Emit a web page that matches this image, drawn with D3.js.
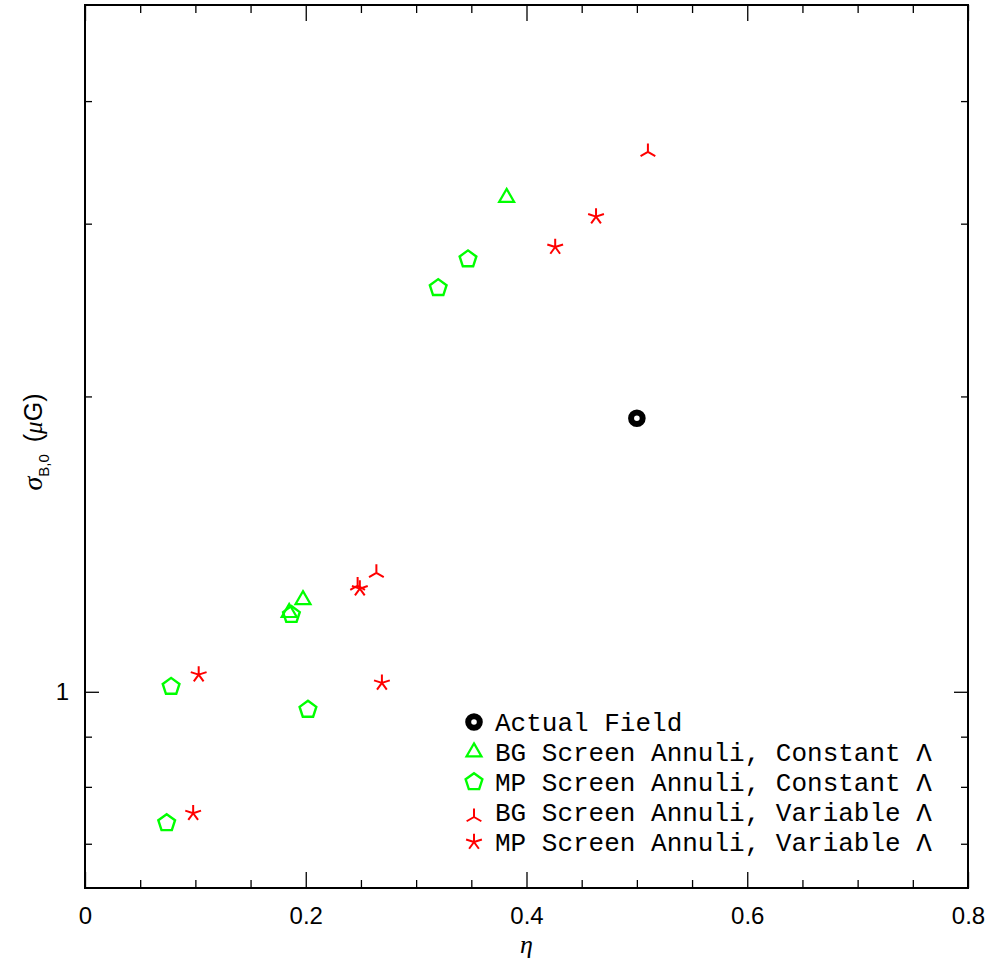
<!DOCTYPE html>
<html>
<head>
<meta charset="utf-8">
<script src="https://cdn.jsdelivr.net/npm/d3@7"></script>
<style>
  html, body { margin: 0; padding: 0; background: #fff; }
  svg { display: block; }
</style>
</head>
<body>
<svg id="chart" width="988" height="965"></svg>
<script>
// Measured field strength dispersion versus eta for each method
const actualEta = [0.500];
const actualSigma = [1.90];

const bgConstEta = [0.382, 0.1975, 0.185];
const bgConstSigma = [3.19, 1.241, 1.204];

const mpConstEta = [0.320, 0.347, 0.078, 0.202, 0.074, 0.187];
const mpConstSigma = [2.58, 2.76, 1.012, 0.959, 0.735, 1.198];

const bgVarEta = [0.510, 0.264, 0.247];
const bgVarSigma = [3.55, 1.322, 1.283];

const mpVarEta = [0.463, 0.426, 0.249, 0.103, 0.269, 0.098];
const mpVarSigma = [3.05, 2.84, 1.274, 1.041, 1.021, 0.752];

const xMajorTicks = [0, 0.2, 0.4, 0.6, 0.8];
const xTickLabels = ["0", "0.2", "0.4", "0.6", "0.8"];
const xMinorTicks = [0.05, 0.1, 0.15, 0.25, 0.3, 0.35, 0.45, 0.5, 0.55, 0.65, 0.7, 0.75];
const yMajorTicks = [1];
const yTickLabels = ["1"];
const yMinorTicks = [0.7, 0.8, 0.9, 2, 3, 4];

const legendLabels = [
  "Actual Field",
  "BG Screen Annuli, Constant \u039B",
  "MP Screen Annuli, Constant \u039B",
  "BG Screen Annuli, Variable \u039B",
  "MP Screen Annuli, Variable \u039B"
];

const GREEN = "#00ff00", RED = "#ff0000";

const svg = d3.select("#chart");
const plotL = 85, plotR = 968, plotT = 5, plotB = 888;

const x = d3.scaleLinear().domain([0, 0.8]).range([plotL, plotR]);
const y = d3.scaleLog().domain([Math.pow(10, -0.2), Math.pow(10, 0.7)]).range([plotB, plotT]);

// ---- marker shapes ----
function trianglePath(s) {
  const h = s * Math.sqrt(3) / 2;
  return `M0,${-2 * h / 3}L${s / 2},${h / 3}L${-s / 2},${h / 3}Z`;
}
function pentagonPath(r) {
  const pts = d3.range(5).map(i => {
    const a = -Math.PI / 2 + i * 2 * Math.PI / 5;
    return [r * Math.cos(a), r * Math.sin(a)];
  });
  return "M" + pts.map(p => p.join(",")).join("L") + "Z";
}
function asteriskPath(r) {
  return d3.range(5).map(i => {
    const a = -Math.PI / 2 + i * 2 * Math.PI / 5;
    return `M0,0L${r * Math.cos(a)},${r * Math.sin(a)}`;
  }).join("");
}
function threeArmPath(r) {
  return d3.range(3).map(i => {
    const a = -Math.PI / 2 + i * 2 * Math.PI / 3;
    return `M0,0L${r * Math.cos(a)},${r * Math.sin(a)}`;
  }).join("");
}

const markerStyles = [
  { kind: "circle", color: "#000" },
  { kind: "path", d: trianglePath(15), color: GREEN, width: 2.2, dy: 0 },
  { kind: "path", d: pentagonPath(8.8), color: GREEN, width: 2.4, dy: 0 },
  { kind: "path", d: threeArmPath(8.5), color: RED, width: 2, dy: 5 },
  { kind: "path", d: asteriskPath(8.3), color: RED, width: 2, dy: 0 }
];

function drawMarker(g, style, cx, cy, inLegend) {
  if (style.kind === "circle") {
    g.append("circle").attr("cx", cx).attr("cy", cy).attr("r", 5.8)
      .attr("fill", "#fff").attr("stroke", "#000").attr("stroke-width", 6);
  } else {
    g.append("path").attr("d", style.d)
      .attr("transform", `translate(${cx},${cy + (inLegend ? style.dy : 0)})`)
      .attr("fill", "none").attr("stroke", style.color)
      .attr("stroke-width", style.width).attr("stroke-linejoin", "miter");
  }
}

// ---- axes (ticks point inward on all four sides) ----
const tickFont = "'Liberation Sans', Arial, sans-serif";

function styleAxis(g) {
  g.select(".domain").remove();
  g.selectAll(".tick line").attr("stroke", "#000").attr("stroke-width", 1.3);
}

svg.append("g").attr("transform", `translate(0,${plotB})`)
  .call(d3.axisBottom(x).tickValues(xMajorTicks).tickSize(-16).tickPadding(19)
    .tickFormat((d, i) => xTickLabels[i]))
  .call(styleAxis)
  .call(g => g.selectAll("text").attr("font-family", tickFont).attr("font-size", 24).attr("fill", "#000"));
svg.append("g").attr("transform", `translate(0,${plotB})`)
  .call(d3.axisBottom(x).tickValues(xMinorTicks).tickSize(-8).tickFormat(""))
  .call(styleAxis);

svg.append("g").attr("transform", `translate(0,${plotT})`)
  .call(d3.axisTop(x).tickValues(xMajorTicks).tickSize(-16).tickFormat(""))
  .call(styleAxis);
svg.append("g").attr("transform", `translate(0,${plotT})`)
  .call(d3.axisTop(x).tickValues(xMinorTicks).tickSize(-8).tickFormat(""))
  .call(styleAxis);

svg.append("g").attr("transform", `translate(${plotL},0)`)
  .call(d3.axisLeft(y).tickValues(yMajorTicks).tickSize(-14).tickPadding(16)
    .tickFormat((d, i) => yTickLabels[i]))
  .call(styleAxis)
  .call(g => g.selectAll("text").attr("font-family", tickFont).attr("font-size", 24).attr("fill", "#000"));
svg.append("g").attr("transform", `translate(${plotL},0)`)
  .call(d3.axisLeft(y).tickValues(yMinorTicks).tickSize(-7).tickFormat(""))
  .call(styleAxis);

svg.append("g").attr("transform", `translate(${plotR},0)`)
  .call(d3.axisRight(y).tickValues(yMajorTicks).tickSize(-14).tickFormat(""))
  .call(styleAxis);
svg.append("g").attr("transform", `translate(${plotR},0)`)
  .call(d3.axisRight(y).tickValues(yMinorTicks).tickSize(-7).tickFormat(""))
  .call(styleAxis);

// frame
svg.append("rect")
  .attr("x", plotL).attr("y", plotT)
  .attr("width", plotR - plotL).attr("height", plotB - plotT)
  .attr("fill", "none").attr("stroke", "#000").attr("stroke-width", 2);

// ---- axis titles ----
svg.append("text")
  .attr("x", (plotL + plotR) / 2).attr("y", 953)
  .attr("text-anchor", "middle")
  .attr("font-family", "'Liberation Serif', 'DejaVu Serif', serif")
  .attr("font-style", "italic").attr("font-size", 26)
  .text("\u03B7");

const yTitle = svg.append("text")
  .attr("transform", "translate(42,442) rotate(-90)")
  .attr("text-anchor", "middle")
  .attr("font-family", tickFont).attr("font-size", 25);
yTitle.append("tspan").attr("font-family", "'Liberation Serif', serif")
  .attr("font-style", "italic").attr("font-size", 28).text("\u03C3");
yTitle.append("tspan").attr("font-size", 15).attr("dy", 7).text("B,0");
yTitle.append("tspan").attr("dy", -7).text("\u2009 (");
yTitle.append("tspan").attr("font-family", "'Liberation Serif', serif")
  .attr("font-style", "italic").text("\u03BC");
yTitle.append("tspan").text("G)");

// ---- data points ----
const pts = svg.append("g");
const seriesData = [
  [actualEta, actualSigma],
  [bgConstEta, bgConstSigma],
  [mpConstEta, mpConstSigma],
  [bgVarEta, bgVarSigma],
  [mpVarEta, mpVarSigma]
];
seriesData.forEach(([etas, sigmas], s) => {
  etas.forEach((e, i) => drawMarker(pts, markerStyles[s], x(e), y(sigmas[i]), false));
});

// ---- legend ----
const legend = svg.append("g");
const legendX = 474, legendTextX = 495, legendY0 = 722, legendStep = 30;
legendLabels.forEach((label, i) => {
  const cy = legendY0 + i * legendStep;
  drawMarker(legend, markerStyles[i], legendX, cy, true);
  legend.append("text")
    .attr("x", legendTextX).attr("y", cy + 9)
    .attr("font-family", "'Liberation Mono', 'Courier New', monospace")
    .attr("font-size", 26).attr("fill", "#000")
    .text(label);
});
</script>
</body>
</html>
